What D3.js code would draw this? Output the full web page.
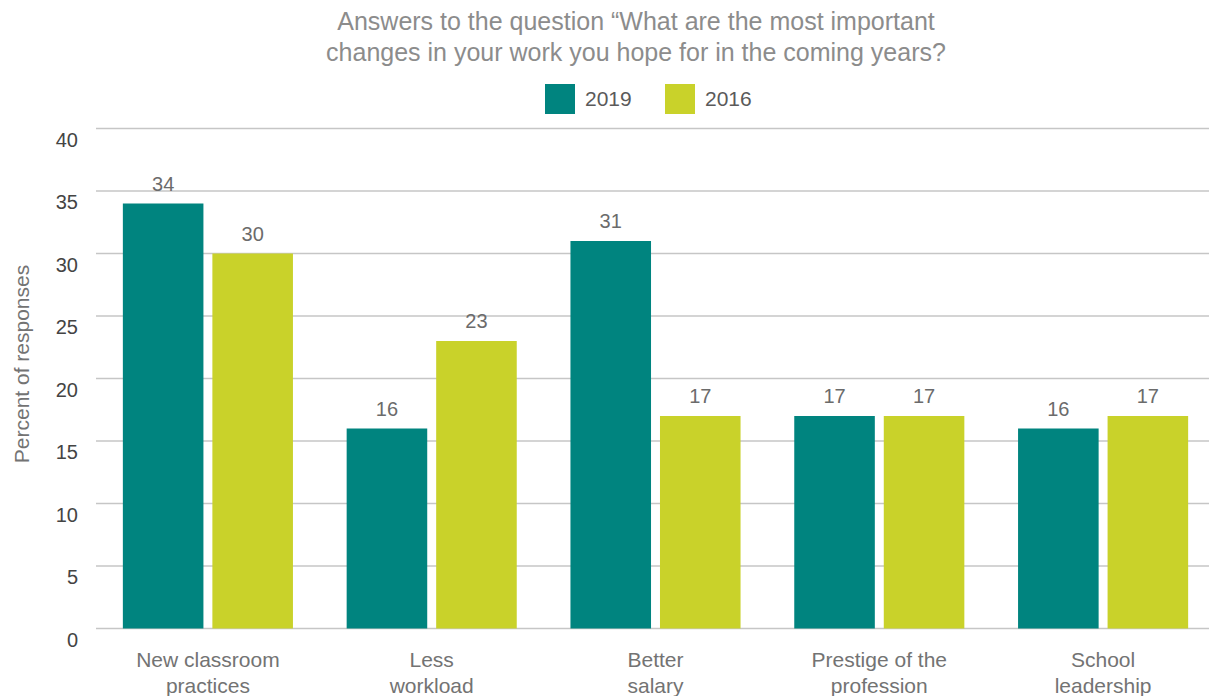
<!DOCTYPE html>
<html>
<head>
<meta charset="utf-8">
<script src="https://cdn.jsdelivr.net/npm/d3@7"></script>
<style>
  body { margin: 0; background: #fff; }
  svg { display: block; font-family: "Liberation Sans", Arial, sans-serif; }
</style>
</head>
<body>
<div id="chart"></div>
<script>
// data
var categories = [["New classroom", "practices"], ["Less", "workload"], ["Better", "salary"],
                  ["Prestige of the", "profession"], ["School", "leadership"]];
var seriesNames = ["2019", "2016"];
var values2019 = [34, 16, 31, 17, 16];
var values2016 = [30, 23, 17, 17, 17];
var yTicks = [0, 5, 10, 15, 20, 25, 30, 35, 40];
var titleLines = ["Answers to the question \u201CWhat are the most important",
                  "changes in your work you hope for in the coming years?"];

var width = 1209, height = 696;
var colors = {"2019": "#00847f", "2016": "#c9d22a"};

var svg = d3.select("#chart").append("svg")
    .attr("width", width)
    .attr("height", height);

var x0 = d3.scaleBand()
    .domain(d3.range(categories.length))
    .range([96, 1215])
    .paddingInner(0.24)
    .paddingOuter(0.12);

var x1 = d3.scaleBand()
    .domain(seriesNames)
    .range([0, x0.bandwidth()])
    .paddingInner(0.1);

var y = d3.scaleLinear().domain([0, 40]).range([628.5, 128.5]);

// gridlines
svg.append("g").selectAll("line")
    .data(yTicks)
    .join("line")
    .attr("x1", 96).attr("x2", width)
    .attr("y1", function (d) { return y(d); })
    .attr("y2", function (d) { return y(d); })
    .attr("stroke", "#c6c6c6")
    .attr("stroke-width", 1.5);

// y tick labels
svg.append("g").selectAll("text")
    .data(yTicks)
    .join("text")
    .attr("x", 78)
    .attr("y", function (d) { return y(d) + 18; })
    .attr("text-anchor", "end")
    .attr("font-size", 20)
    .attr("fill", "#444")
    .text(function (d) { return d; });

// y axis title
svg.append("text")
    .attr("transform", "translate(29,364) rotate(-90)")
    .attr("text-anchor", "middle")
    .attr("font-size", 21)
    .attr("fill", "#737373")
    .text("Percent of responses");

var rows = categories.map(function (c, i) {
    return {i: i, vals: [{k: "2019", v: values2019[i]}, {k: "2016", v: values2016[i]}]};
});

var groups = svg.append("g").selectAll("g")
    .data(rows)
    .join("g")
    .attr("transform", function (d) { return "translate(" + x0(d.i) + ",0)"; });

groups.selectAll("rect")
    .data(function (d) { return d.vals; })
    .join("rect")
    .attr("x", function (d) { return x1(d.k); })
    .attr("y", function (d) { return y(d.v); })
    .attr("width", x1.bandwidth())
    .attr("height", function (d) { return y(0) - y(d.v); })
    .attr("fill", function (d) { return colors[d.k]; });

groups.selectAll("text.val")
    .data(function (d) { return d.vals; })
    .join("text")
    .attr("class", "val")
    .attr("x", function (d) { return x1(d.k) + x1.bandwidth() / 2; })
    .attr("y", function (d) { return y(d.v) - 13; })
    .attr("text-anchor", "middle")
    .attr("font-size", 20)
    .attr("fill", "#6b6b6b")
    .text(function (d) { return d.v; });

// category labels
var cat = svg.append("g").selectAll("text")
    .data(categories)
    .join("text")
    .attr("x", function (d, i) { return x0(i) + x0.bandwidth() / 2; })
    .attr("y", 667)
    .attr("text-anchor", "middle")
    .attr("font-size", 21)
    .attr("fill", "#737373");
cat.selectAll("tspan")
    .data(function (d) { return d; })
    .join("tspan")
    .attr("x", function () { return d3.select(this.parentNode).attr("x"); })
    .attr("dy", function (d, j) { return j === 0 ? 0 : 26; })
    .text(function (d) { return d; });

// title
svg.append("g").selectAll("text")
    .data(titleLines)
    .join("text")
    .attr("x", 636)
    .attr("y", function (d, i) { return 30 + i * 31; })
    .attr("text-anchor", "middle")
    .attr("font-size", 25)
    .attr("fill", "#8c8c8c")
    .text(function (d) { return d; });

// legend
var legendX = [545, 665];
var legend = svg.append("g").selectAll("g")
    .data(seriesNames)
    .join("g")
    .attr("transform", function (d, i) { return "translate(" + legendX[i] + ",84)"; });
legend.append("rect")
    .attr("width", 30).attr("height", 30)
    .attr("fill", function (d) { return colors[d]; });
legend.append("text")
    .attr("x", 40).attr("y", 22)
    .attr("font-size", 21)
    .attr("fill", "#5a5a5a")
    .text(function (d) { return d; });
</script>
</body>
</html>
